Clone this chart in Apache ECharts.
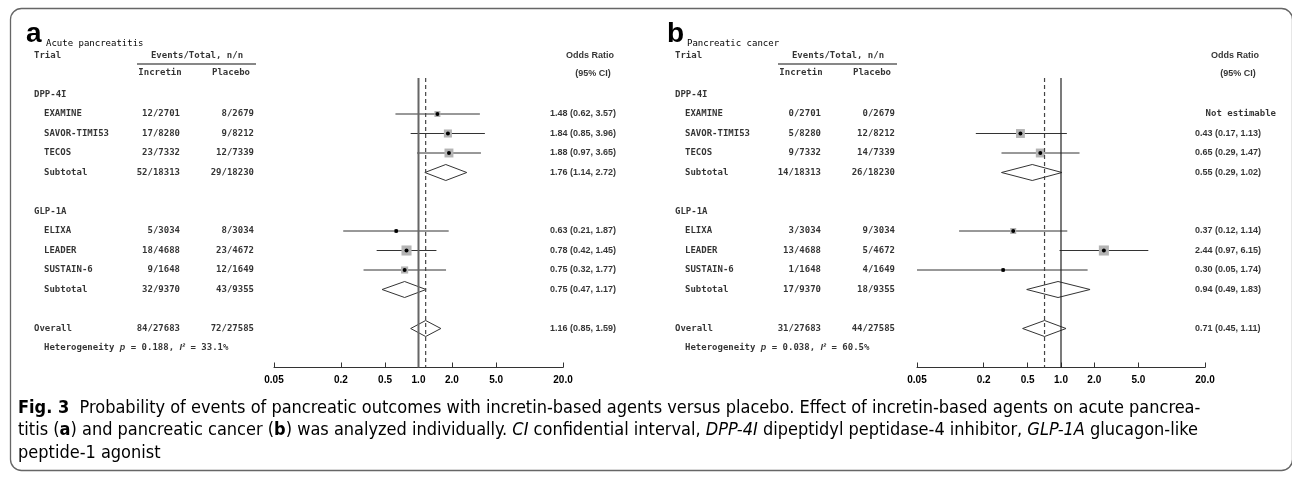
<!DOCTYPE html>
<html>
<head>
<meta charset="utf-8">
<script src="https://cdn.jsdelivr.net/npm/echarts@6.0.0/dist/echarts.min.js"></script>
<style>
html, body { margin: 0; padding: 0; background: #fff; }
#main { width: 1292px; height: 477px; }
</style>
</head>
<body>
<div id="main"></div>
<script>
// rows shared by both panels
var groupNames = ['DPP-4I', 'GLP-1A'];
var groupSlots = [0, 6];
var rowNames = ['EXAMINE', 'SAVOR-TIMI53', 'TECOS', 'Subtotal', 'ELIXA', 'LEADER', 'SUSTAIN-6', 'Subtotal', 'Overall'];
var rowKinds = ['trial', 'trial', 'trial', 'sub', 'trial', 'trial', 'trial', 'sub', 'all'];
var rowSlots = [1, 2, 3, 4, 7, 8, 9, 10, 12];

var tickValues = [0.05, 0.2, 0.5, 1, 2, 5, 20];
var tickLabels = ['0.05', '0.2', '0.5', '1.0', '2.0', '5.0', '20.0'];

// a: acute pancreatitis
var acuteIncretin = ['12/2701', '17/8280', '23/7332', '52/18313', '5/3034', '18/4688', '9/1648', '32/9370', '84/27683'];
var acutePlacebo = ['8/2679', '9/8212', '12/7339', '29/18230', '8/3034', '23/4672', '12/1649', '43/9355', '72/27585'];
var acuteOR = [1.48, 1.84, 1.88, 1.76, 0.63, 0.78, 0.75, 0.75, 1.16];
var acuteLow = [0.62, 0.85, 0.97, 1.14, 0.21, 0.42, 0.32, 0.47, 0.85];
var acuteHigh = [3.57, 3.96, 3.65, 2.72, 1.87, 1.45, 1.77, 1.17, 1.59];
var acuteWeight = [10, 18, 22, null, 4, 28, 14, null, null];
var acuteHet = ['0.188', '33.1%'];

// b: pancreatic cancer
var cancerIncretin = ['0/2701', '5/8280', '9/7332', '14/18313', '3/3034', '13/4688', '1/1648', '17/9370', '31/27683'];
var cancerPlacebo = ['0/2679', '12/8212', '14/7339', '26/18230', '9/3034', '5/4672', '4/1649', '18/9355', '44/27585'];
var cancerOR = [null, 0.43, 0.65, 0.55, 0.37, 2.44, 0.30, 0.94, 0.71];
var cancerLow = [null, 0.17, 0.29, 0.29, 0.12, 0.97, 0.05, 0.49, 0.45];
var cancerHigh = [null, 1.13, 1.47, 1.02, 1.14, 6.15, 1.74, 1.83, 1.11];
var cancerWeight = [null, 22, 22, null, 10, 28, 4, null, null];
var cancerHet = ['0.038', '60.5%'];

var panels = [
    { letter: 'a', title: 'Acute pancreatitis', incretin: acuteIncretin, placebo: acutePlacebo,
      or: acuteOR, low: acuteLow, high: acuteHigh, weight: acuteWeight, het: acuteHet,
      dx: 0, plotLeft: 274, plotWidth: 289, orX: 550, refColor: '#666', refWidth: 2 },
    { letter: 'b', title: 'Pancreatic cancer', incretin: cancerIncretin, placebo: cancerPlacebo,
      or: cancerOR, low: cancerLow, high: cancerHigh, weight: cancerWeight, het: cancerHet,
      dx: 641, plotLeft: 917, plotWidth: 288, orX: 1195, refColor: '#222', refWidth: 1.2 }
];

var MONO = "'DejaVu Sans Mono', monospace";
var SANS = "'Liberation Sans', Arial, sans-serif";
var ROW_TOP = 36, ROW_H = 19.5, ROW_MIN = -3, ROW_MAX = 14;

var myChart = echarts.init(document.getElementById('main'));

var grids = [], xAxes = [], yAxes = [], series = [], graphics = [];

function rowAxis(gi) {
    return { type: 'value', gridIndex: gi, min: ROW_MIN, max: ROW_MAX, inverse: true, show: false };
}

panels.forEach(function (p, gi) {
    grids.push({ left: p.plotLeft, width: p.plotWidth, top: ROW_TOP, height: ROW_H * (ROW_MAX - ROW_MIN) });
    xAxes.push({
        type: 'log', logBase: 10, gridIndex: gi, min: 0.05, max: 20,
        axisLine: { onZero: false, lineStyle: { color: '#333', width: 1 } },
        axisTick: { customValues: tickValues, inside: true, length: 5, lineStyle: { color: '#333' } },
        axisLabel: {
            customValues: tickValues, margin: 8, color: '#000',
            fontFamily: SANS, fontWeight: 'bold', fontSize: 10,
            formatter: function (v) {
                var best = 0;
                tickValues.forEach(function (t, i) {
                    if (Math.abs(Math.log(t) - Math.log(v)) < Math.abs(Math.log(tickValues[best]) - Math.log(v))) best = i;
                });
                return tickLabels[best];
            }
        },
        splitLine: { show: false }
    });
    yAxes.push(rowAxis(gi));

    var overall = p.or[p.or.length - 1];
    series.push({
        type: 'line', xAxisIndex: gi, yAxisIndex: gi, silent: true, symbol: 'none',
        lineStyle: { color: p.refColor, width: p.refWidth },
        data: [[1, -0.85], [1, ROW_MAX]]
    });
    series.push({
        type: 'line', xAxisIndex: gi, yAxisIndex: gi, silent: true, symbol: 'none',
        lineStyle: { color: '#444', width: 1.2, type: [4, 3] },
        data: [[overall, -0.85], [overall, ROW_MAX]]
    });

    var ciData = [], squareData = [], dotData = [], diamondData = [];
    p.or.forEach(function (v, i) {
        if (v == null) return;
        if (rowKinds[i] === 'trial') {
            ciData.push([p.low[i], p.high[i], rowSlots[i]]);
            squareData.push({ value: [v, rowSlots[i]], symbolSize: 1.9 * Math.sqrt(p.weight[i]) });
            dotData.push([v, rowSlots[i]]);
        } else {
            diamondData.push([p.low[i], v, p.high[i], rowSlots[i]]);
        }
    });

    series.push({
        type: 'custom', xAxisIndex: gi, yAxisIndex: gi, silent: true,
        encode: { x: [0, 1], y: 2 },
        data: ciData,
        renderItem: function (params, api) {
            var a = api.coord([api.value(0), api.value(2)]);
            var b = api.coord([api.value(1), api.value(2)]);
            return { type: 'line', shape: { x1: a[0], y1: a[1], x2: b[0], y2: b[1] },
                     style: { stroke: '#333', lineWidth: 1 } };
        }
    });
    series.push({
        type: 'scatter', xAxisIndex: gi, yAxisIndex: gi, silent: true, symbol: 'rect',
        itemStyle: { color: '#b4b4b4', opacity: 1 }, data: squareData
    });
    series.push({
        type: 'scatter', xAxisIndex: gi, yAxisIndex: gi, silent: true, symbol: 'circle',
        symbolSize: 4, itemStyle: { color: '#000', opacity: 1 }, data: dotData
    });
    series.push({
        type: 'custom', xAxisIndex: gi, yAxisIndex: gi, silent: true,
        encode: { x: [0, 1, 2], y: 3 },
        data: diamondData,
        renderItem: function (params, api) {
            var l = api.coord([api.value(0), api.value(3)]);
            var c = api.coord([api.value(1), api.value(3)]);
            var r = api.coord([api.value(2), api.value(3)]);
            var h = 8;
            return { type: 'polygon',
                     shape: { points: [[l[0], l[1]], [c[0], c[1] - h], [r[0], r[1]], [c[0], c[1] + h]] },
                     style: { fill: 'none', stroke: '#333', lineWidth: 1 } };
        }
    });
});

// full-width grid for the table text, x measured in page pixels
var tg = grids.length;
grids.push({ left: 0, width: 1292, top: ROW_TOP, height: ROW_H * (ROW_MAX - ROW_MIN) });
xAxes.push({ type: 'value', gridIndex: tg, min: 0, max: 1292, show: false });
yAxes.push(rowAxis(tg));

var monoItems = [], sansItems = [];
function put(list, x, row, text, align) {
    list.push({ value: [x, row], text: text, label: { align: align } });
}

panels.forEach(function (p) {
    var dx = p.dx;
    put(monoItems, 34 + dx, -2, 'Trial', 'left');
    put(monoItems, 197 + dx, -2, 'Events/Total, n/n', 'center');
    put(monoItems, 160 + dx, -1.1, 'Incretin', 'center');
    put(monoItems, 231 + dx, -1.1, 'Placebo', 'center');
    groupNames.forEach(function (g, i) { put(monoItems, 34 + dx, groupSlots[i], g, 'left'); });
    rowNames.forEach(function (n, i) {
        put(monoItems, (rowKinds[i] === 'all' ? 34 : 44) + dx, rowSlots[i], n, 'left');
        put(monoItems, 180 + dx, rowSlots[i], p.incretin[i], 'right');
        put(monoItems, 254 + dx, rowSlots[i], p.placebo[i], 'right');
        if (p.or[i] == null) {
            put(monoItems, p.orX + 81, rowSlots[i], 'Not estimable', 'right');
        } else {
            put(sansItems, p.orX, rowSlots[i],
                p.or[i].toFixed(2) + ' (' + p.low[i].toFixed(2) + ', ' + p.high[i].toFixed(2) + ')', 'left');
        }
    });
    put(sansItems, p.orX + 40, -2, 'Odds Ratio', 'center');
    put(sansItems, p.orX + 43, -1.1, '(95% CI)', 'center');
    put(monoItems, 44 + dx, 13,
        '{n|Heterogeneity }{i|p}{n| = ' + p.het[0] + ', }{i|I²}{n| = ' + p.het[1] + '}', 'left');

    graphics.push({ type: 'text', x: 26 + dx, y: 34, silent: true,
        style: { text: p.letter, fill: '#000', font: "bold 28px 'Liberation Sans', Arial", verticalAlign: 'middle' } });
    graphics.push({ type: 'text', x: 46 + dx, y: 43.5, silent: true,
        style: { text: p.title, fill: '#000', font: "9px " + MONO, verticalAlign: 'middle' } });
    graphics.push({ type: 'line', silent: true,
        shape: { x1: 137 + dx, y1: 64, x2: 256 + dx, y2: 64 }, style: { stroke: '#111', lineWidth: 1.2 } });
});

function textSeries(items, family) {
    return {
        type: 'scatter', xAxisIndex: tg, yAxisIndex: tg, silent: true, symbolSize: 0,
        data: items,
        label: {
            show: true, position: 'inside', verticalAlign: 'middle',
            color: '#000', fontFamily: family, fontWeight: 'bold', fontSize: 9,
            formatter: function (prm) { return prm.data.text; },
            rich: {
                n: { fontFamily: family, fontWeight: 'bold', fontSize: 9, color: '#000' },
                i: { fontFamily: SANS, fontStyle: 'italic', fontWeight: 'bold', fontSize: 9, color: '#000' }
            }
        }
    };
}
series.push(textSeries(monoItems, MONO));
series.push(textSeries(sansItems, SANS));

// frame and caption
var CAP = "'Liberation Sans Narrow', 'DejaVu Sans Condensed', 'Open Sans', sans-serif";
var capRich = {
    t: { fontFamily: CAP, fontSize: 18, color: '#231f20' },
    b: { fontFamily: CAP, fontSize: 18, fontWeight: 'bold', color: '#231f20' },
    i: { fontFamily: CAP, fontSize: 18, fontStyle: 'italic', color: '#231f20' }
};
var captionLines = [
    '{b|Fig. 3}{t|  Probability of events of pancreatic outcomes with incretin-based agents versus placebo. Effect of incretin-based agents on acute pancrea-}',
    '{t|titis (}{b|a}{t|) and pancreatic cancer (}{b|b}{t|) was analyzed individually. }{i|CI}{t| confidential interval, }{i|DPP-4I}{t| dipeptidyl peptidase-4 inhibitor, }{i|GLP-1A}{t| glucagon-like}',
    '{t|peptide-1 agonist}'
];
graphics.push({ type: 'rect', silent: true, shape: { x: 10.5, y: 8.5, width: 1282, height: 462, r: 11 },
    style: { fill: 'none', stroke: '#666', lineWidth: 1.3 } });
captionLines.forEach(function (line, i) {
    graphics.push({ type: 'text', x: 18, y: 408 + i * 22.5, silent: true,
        style: { text: line, rich: capRich, verticalAlign: 'middle', fontFamily: CAP, fontSize: 18 } });
});

myChart.setOption({
    animation: false,
    backgroundColor: '#fff',
    grid: grids,
    xAxis: xAxes,
    yAxis: yAxes,
    series: series,
    graphic: graphics
});
</script>
</body>
</html>
